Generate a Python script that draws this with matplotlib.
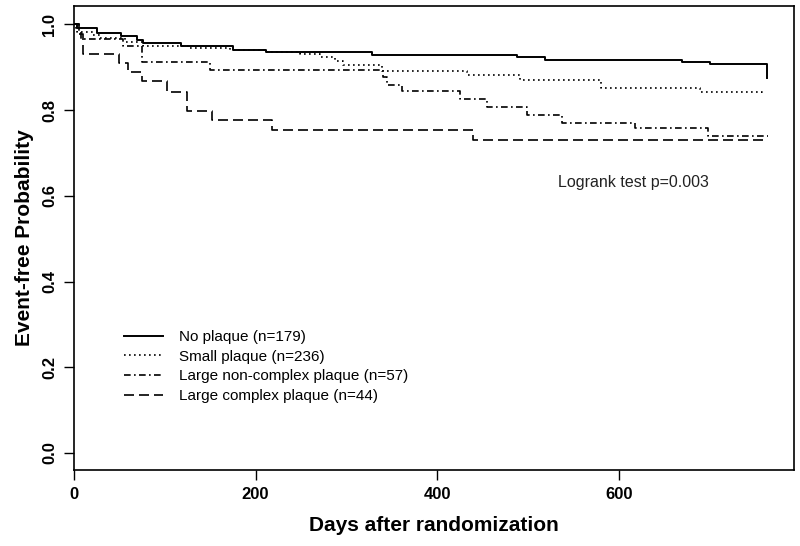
import matplotlib
matplotlib.use("Agg")
import matplotlib.pyplot as plt
from matplotlib import font_manager

# ---- data ----
none_t = [0, 3, 25, 52, 69, 76, 118, 175, 212, 328, 488, 519, 670, 701, 763]
none_s = [1.0, 0.991, 0.981, 0.974, 0.964, 0.956, 0.950, 0.940, 0.935, 0.929, 0.925, 0.918, 0.912, 0.907, 0.876]

small_t = [0, 2, 3, 21, 29, 56, 76, 128, 172, 213, 249, 271, 288, 296, 339, 433, 491, 580, 690, 758]
small_s = [1.0, 0.990, 0.982, 0.975, 0.968, 0.958, 0.950, 0.945, 0.940, 0.936, 0.930, 0.925, 0.915, 0.905, 0.891, 0.882, 0.870, 0.852, 0.843, 0.838]

lnc_t = [0, 5, 8, 54, 75, 150, 340, 345, 361, 425, 455, 499, 538, 618, 698, 764]
lnc_s = [1.0, 0.982, 0.965, 0.950, 0.913, 0.894, 0.878, 0.859, 0.845, 0.825, 0.808, 0.789, 0.771, 0.758, 0.740, 0.740]

lc_t = [0, 5, 10, 50, 60, 75, 102, 125, 152, 218, 440, 764]
lc_s = [1.0, 0.977, 0.932, 0.909, 0.890, 0.867, 0.843, 0.797, 0.777, 0.754, 0.730, 0.730]

labels = ["No plaque (n=179)", "Small plaque (n=236)",
          "Large non-complex plaque (n=57)", "Large complex plaque (n=44)"]

x_ticks = [0, 200, 400, 600]
y_ticks = [0.0, 0.2, 0.4, 0.6, 0.8, 1.0]

names = {f.name for f in font_manager.fontManager.ttflist}
narrow = "Liberation Sans Narrow" if "Liberation Sans Narrow" in names else "Liberation Sans"

plt.rcParams["font.family"] = ["Liberation Sans", "DejaVu Sans"]

fig = plt.figure(figsize=(8.0, 5.46), dpi=100)
ax = fig.add_axes([0.0925, 0.139, 0.9, 0.85])

styles = [
    dict(linestyle="-", linewidth=1.4),
    dict(linestyle=(0, (1, 2)), linewidth=1.2),
    dict(linestyle=(0, (4, 2, 1, 2)), linewidth=1.2),
    dict(linestyle=(0, (6, 3)), linewidth=1.2),
]
series = [(none_t, none_s), (small_t, small_s), (lnc_t, lnc_s), (lc_t, lc_s)]
for (t, s), st, lab in zip(series, styles, labels):
    ax.step(t, s, where="post", color="black", label=lab, **st)

ax.set_xlim(0, 793)
ax.set_ylim(-0.04, 1.043)
ax.set_xticks(x_ticks)
ax.set_yticks(y_ticks)
ax.set_xticklabels([str(v) for v in x_ticks], fontfamily=narrow, fontweight="bold", fontsize=12)
ax.set_yticklabels([f"{v:.1f}" for v in y_ticks], fontfamily=narrow, fontweight="bold",
                   fontsize=12, rotation=90, va="center")
ax.tick_params(direction="out", length=7, width=1, pad=5)
for sp in ax.spines.values():
    sp.set_linewidth(1.2)

ax.set_xlabel("Days after randomization", fontfamily=narrow, fontweight="bold", fontsize=15, labelpad=10)
ax.set_ylabel("Event-free Probability", fontweight="bold", fontsize=15, labelpad=6)

ax.text(533, 0.63, "Logrank test p=0.003", fontsize=11.5, color="#222222", ha="left", va="center")

leg = ax.legend(loc="lower left", bbox_to_anchor=(0.05, 0.115), frameon=False, fontsize=11,
                handlelength=2.6, handletextpad=1.0, labelspacing=0.37)

fig.savefig("out.png", dpi=100)
